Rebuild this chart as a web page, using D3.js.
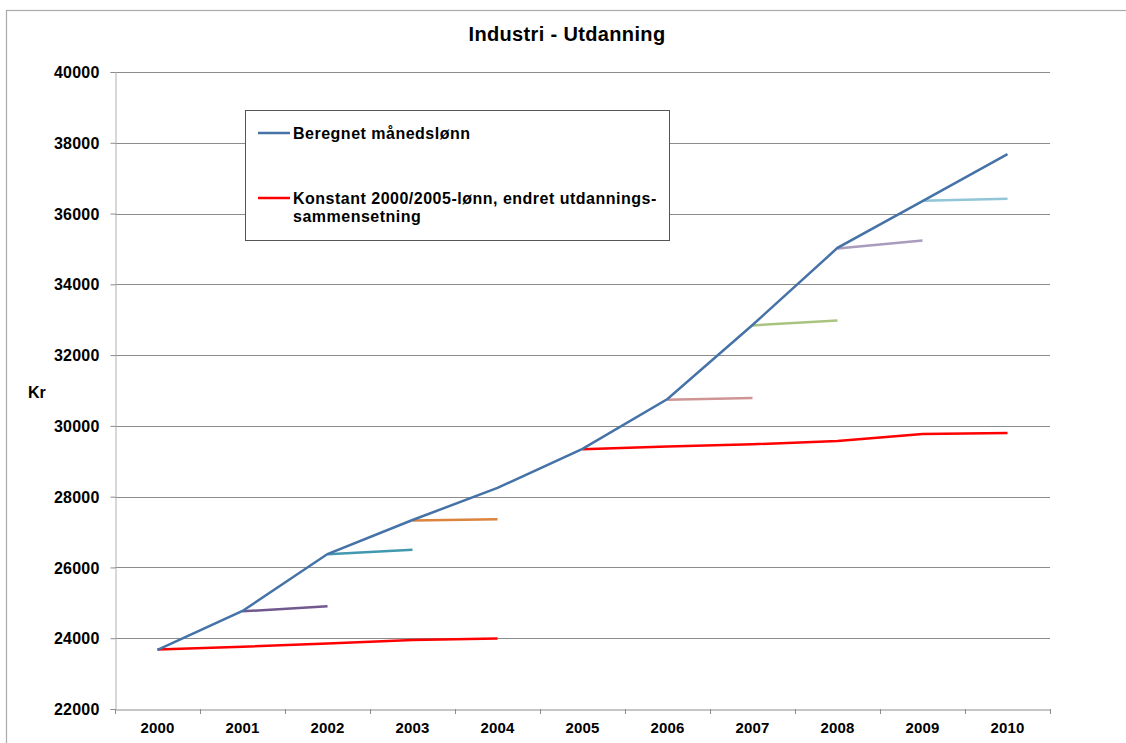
<!DOCTYPE html>
<html><head><meta charset="utf-8">
<script src="https://cdn.jsdelivr.net/npm/d3@7"></script>
<style>
body{margin:0;background:#fff;}
text{font-family:"Liberation Sans",Arial,Helvetica,sans-serif;font-weight:bold;fill:#000;}
</style></head>
<body><svg id="c" width="1126" height="743"></svg>
<script>
const years = ["2000","2001","2002","2003","2004","2005","2006","2007","2008","2009","2010"];
const yTicks = [22000,24000,26000,28000,30000,32000,34000,36000,38000,40000];
const beregnet = [23670,24770,26380,27340,28250,29350,30760,32850,35030,36350,37680];
const konstant2000 = [23680,23760,23850,23950,23990];
const konstant2005 = [29340,29420,29480,29570,29770,29800];
// one-year segments starting at each year
const segStartYears = ["2001","2002","2003","2006","2007","2008","2009"];
const segValues = [[24760,24900],[26370,26500],[27330,27360],[30740,30790],[32840,32980],[35010,35240],[36360,36420]];
const segColors = ["#71588F","#4198AF","#DB843D","#D09494","#A9C47F","#A99BBD","#92C5D8"];
const legendLabels = ["Beregnet månedslønn","Konstant 2000/2005-lønn, endret utdannings-","sammensetning"];

const svg = d3.select("#c");
const L=115,R=1050,T=72,B=709;
const x = d3.scaleBand().domain(years).range([L,R]);
const xc = d => x(d)+x.bandwidth()/2;
const y = d3.scaleLinear().domain([22000,40000]).range([B,T]);

// outer frame
svg.append("rect").attr("x",6.5).attr("y",10.5).attr("width",1130).attr("height",750)
  .attr("fill","none").attr("stroke","#aaa").attr("stroke-width",1.2);

// gridlines
svg.append("g").selectAll("line").data(yTicks.filter(v=>v>22000)).join("line")
  .attr("x1",L).attr("x2",R).attr("y1",d=>Math.round(y(d))+0.5).attr("y2",d=>Math.round(y(d))+0.5)
  .attr("stroke","#8c8c8c").attr("stroke-width",1);

// y axis
const ya = svg.append("g").attr("transform",`translate(${L+0.5},0)`)
  .call(d3.axisLeft(y).tickValues(yTicks).tickSize(5).tickPadding(11).tickFormat(d3.format("d")));
ya.select(".domain").attr("stroke","#b0b0b0");
ya.selectAll(".tick line").attr("stroke","#8c8c8c");
ya.selectAll("text").style("font-size","16px").style("letter-spacing","0.2px").attr("dy","0.35em");

// x axis
const xa = svg.append("g").attr("transform",`translate(0,${B+0.5})`)
  .call(d3.axisBottom(x).tickSize(0).tickPadding(13));
xa.select(".domain").attr("stroke","#8c8c8c");
xa.selectAll("text").style("font-size","15px").style("letter-spacing","0.2px");
svg.append("g").selectAll("line").data(d3.range(years.length+1)).join("line")
  .attr("x1",i=>Math.round(L+i*x.bandwidth())+0.5).attr("x2",i=>Math.round(L+i*x.bandwidth())+0.5)
  .attr("y1",B).attr("y2",B+5).attr("stroke","#8c8c8c");

const line = d3.line().x(d=>xc(d[0])).y(d=>y(d[1]));

// short segments
segStartYears.forEach((yr,i)=>{
  const idx = years.indexOf(yr);
  const pts = [[years[idx],segValues[i][0]],[years[idx+1],segValues[i][1]]];
  svg.append("path").attr("d",line(pts)).attr("fill","none")
    .attr("stroke",segColors[i]).attr("stroke-width",2.5);
});

// red series
svg.append("path").attr("d",line(konstant2000.map((v,i)=>[years[i],v])))
  .attr("fill","none").attr("stroke","#FF0000").attr("stroke-width",2.5);
svg.append("path").attr("d",line(konstant2005.map((v,i)=>[years[i+5],v])))
  .attr("fill","none").attr("stroke","#FF0000").attr("stroke-width",2.5);

// blue series
svg.append("path").attr("d",line(beregnet.map((v,i)=>[years[i],v])))
  .attr("fill","none").attr("stroke","#4572A7").attr("stroke-width",2.5);

// title
svg.append("text").attr("x",567).attr("y",41).attr("text-anchor","middle")
  .style("font-size","20px").style("letter-spacing","0.35px").text("Industri - Utdanning");
// y label
svg.append("text").attr("x",28).attr("y",398).style("font-size","16px").text("Kr");

// legend
svg.append("rect").attr("x",245.5).attr("y",110.5).attr("width",424).attr("height",130)
  .attr("fill","#fff").attr("stroke","#555").attr("stroke-width",1);
svg.append("line").attr("x1",258).attr("x2",290).attr("y1",133).attr("y2",133).attr("stroke","#4572A7").attr("stroke-width",2.5);
svg.append("line").attr("x1",258).attr("x2",290).attr("y1",198).attr("y2",198).attr("stroke","#FF0000").attr("stroke-width",2.5);
svg.append("text").attr("x",293).attr("y",139).style("font-size","16px").style("letter-spacing","0.5px").text(legendLabels[0]);
svg.append("text").attr("x",293).attr("y",204).style("font-size","16px").style("letter-spacing","0.5px").text(legendLabels[1]);
svg.append("text").attr("x",293).attr("y",222).style("font-size","16px").style("letter-spacing","0.5px").text(legendLabels[2]);
</script></body></html>
